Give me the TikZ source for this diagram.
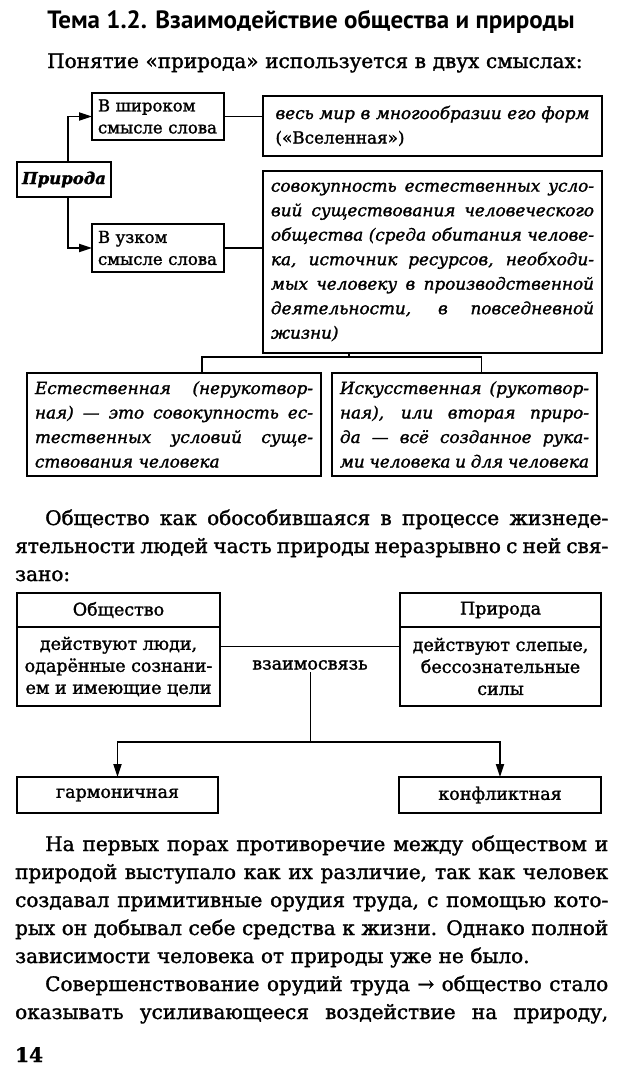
\documentclass[tikz,border=0pt]{standalone}
\usepackage{fontspec}
\setmainfont[FakeBold=1.5]{DejaVu Serif}
\newfontfamily\headfont{PT Sans}
\usetikzlibrary{arrows.meta,positioning,calc}
\newcommand{\jl}[2]{\leavevmode\hbox to #1{\spaceskip=0pt\xspaceskip=0pt\relax #2}}
\newcommand{\bodytext}{\fontsize{20}{28}\selectfont}
\newcommand{\boxtext}{\fontsize{16.5}{22}\selectfont}
\newcommand{\celltext}{\fontsize{17.5}{22}\selectfont}
\newcommand{\itbox}{\fontsize{16.8}{24.5}\selectfont\itshape}
\tikzset{frame/.style={draw,line width=2.2pt,inner sep=0pt,outer sep=0pt,anchor=north west},
  topbox/.style={frame,align=left,font=\boxtext},
  itframe/.style={frame,align=left,font=\itbox},
  cell/.style={draw,line width=1.9pt,inner sep=0pt,outer sep=0pt,anchor=north west,align=center,font=\celltext},
  wire/.style={line width=1.9pt},thinwire/.style={line width=1pt},
  tip/.style={-{Triangle[length=13pt,width=8pt]}},
  para/.style={anchor=base west,inner sep=0pt,text width=593pt,align=left,font=\bodytext}}

\begin{document}
\begin{tikzpicture}[x=1pt,y=-1pt]
\useasboundingbox[fill=white] (0,0) rectangle (620,1076);
\node[font=\headfont\bfseries\fontsize{25}{30}\selectfont] (title) at (311,22) {Тема 1.2. Взаимодействие общества и природы};
\node[para] (intro) at (15,68) {\hspace*{32pt}Понятие «природа» используется в двух смыслах:};
% two meanings
\node[topbox,minimum width=132pt,minimum height=47pt,text width=120pt] (wide) at (92,93) {В широком\\смысле слова};
\node[frame,minimum width=94pt,minimum height=35pt,font=\boxtext\bfseries\itshape] (priroda) at (17,162) {Природа};
\node[topbox,minimum width=132pt,minimum height=48pt,text width=120pt] (narrow) at (92,224) {В узком\\смысле слова};
\node[itframe,minimum width=339pt,minimum height=60pt,text width=314pt] (mir) at (263,96) {\jl{314pt}{весь мир в многообразии его форм}\\{\upshape(«Вселенная»)}};
\node[itframe,minimum width=339pt,minimum height=182pt,text width=323pt] (sov) at (263,171) {\jl{323pt}{совокупность естественных усло-}\\
\jl{323pt}{вий существования человеческого}\\
\jl{323pt}{общества (среда обитания челове-}\\
\jl{323pt}{ка, источник ресурсов, необходи-}\\
\jl{323pt}{мых человеку в производственной}\\
\jl{323pt}{деятельности, в повседневной}\\
жизни)};
\node[itframe,minimum width=294pt,minimum height=103pt,text width=278pt] (nat) at (27,373) {\jl{278pt}{Естественная (нерукотвор-}\\
\jl{278pt}{ная) — это совокупность ес-}\\
\jl{278pt}{тественных условий суще-}\\
ствования человека};
\node[itframe,minimum width=265pt,minimum height=103pt,text width=249pt] (art) at (332,373) {\jl{249pt}{Искусственная (рукотвор-}\\
\jl{249pt}{ная), или вторая приро-}\\
\jl{249pt}{да — всё созданное рука-}\\
\jl{249pt}{ми человека и для человека}};
\draw[wire,tip] ([xshift=4pt]priroda.north) |- (wide.west);
\draw[wire,tip] ([xshift=4pt]priroda.south) |- (narrow.west);
\draw[wire] (wide.east) -- (wide.east -| mir.west);
\draw[wire] (narrow.east) -- (narrow.east -| sov.west);
\coordinate (fork) at (349,357);
\draw[wire] (sov.south -| fork) -- (fork);
\draw[wire] (fork) -| ([xshift=28pt]nat.north);
\draw[wire] (fork) -| ([xshift=17pt]art.north);
\node[para] (para1) at (15,525) {\jl{593pt}{\hspace*{30pt}Общество как обособившаяся в процессе жизнеде-}\\
\jl{593pt}{ятельности людей часть природы неразрывно с ней свя-}\\
зано:};
% society and nature
\node[cell,minimum width=203pt,minimum height=34pt] (sochead) at (17,593) {Общество};
\node[cell,minimum width=203pt,minimum height=79pt,below=0pt of sochead] (socbody) {действуют люди,\\одарённые сознани-\\ем и имеющие цели};
\node[cell,minimum width=201pt,minimum height=34pt] (nathead) at (400,593) {Природа};
\node[cell,minimum width=201pt,minimum height=79pt,below=0pt of nathead] (natbody) {действуют слепые,\\бессознательные\\силы};
\node[font=\celltext,inner sep=2pt] (link) at (310,665) {взаимосвязь};
\draw[wire] ([yshift=20pt]socbody.east) -- ([yshift=20pt]natbody.west);
\node[cell,minimum width=201pt,minimum height=36pt] (harm) at (17,777) {гармоничная};
\node[cell,minimum width=202pt,minimum height=36pt] (conf) at (399,777) {конфликтная};
\coordinate (split) at (310,742);
\draw[thinwire] (link.south) -- (split);
\draw[wire,tip] (split) -| (harm.north);
\draw[wire,tip] (split) -| (conf.north);
\node[para] (para2) at (15,851) {\jl{593pt}{\hspace*{30pt}На первых порах противоречие между обществом и}\\
\jl{593pt}{природой выступало как их различие, так как человек}\\
\jl{593pt}{создавал примитивные орудия труда, с помощью кото-}\\
\jl{593pt}{рых он добывал себе средства к жизни. Однако полной}\\
зависимости человека от природы уже не было.};
\node[para] (para3) at (15,991) {\jl{593pt}{\hspace*{30pt}Совершенствование орудий труда → общество стало}\\
\jl{593pt}{оказывать усиливающееся воздействие на природу,}};
\node[para,font=\bodytext\bfseries] (pagenum) at (15,1062) {14};
\end{tikzpicture}
\end{document}
